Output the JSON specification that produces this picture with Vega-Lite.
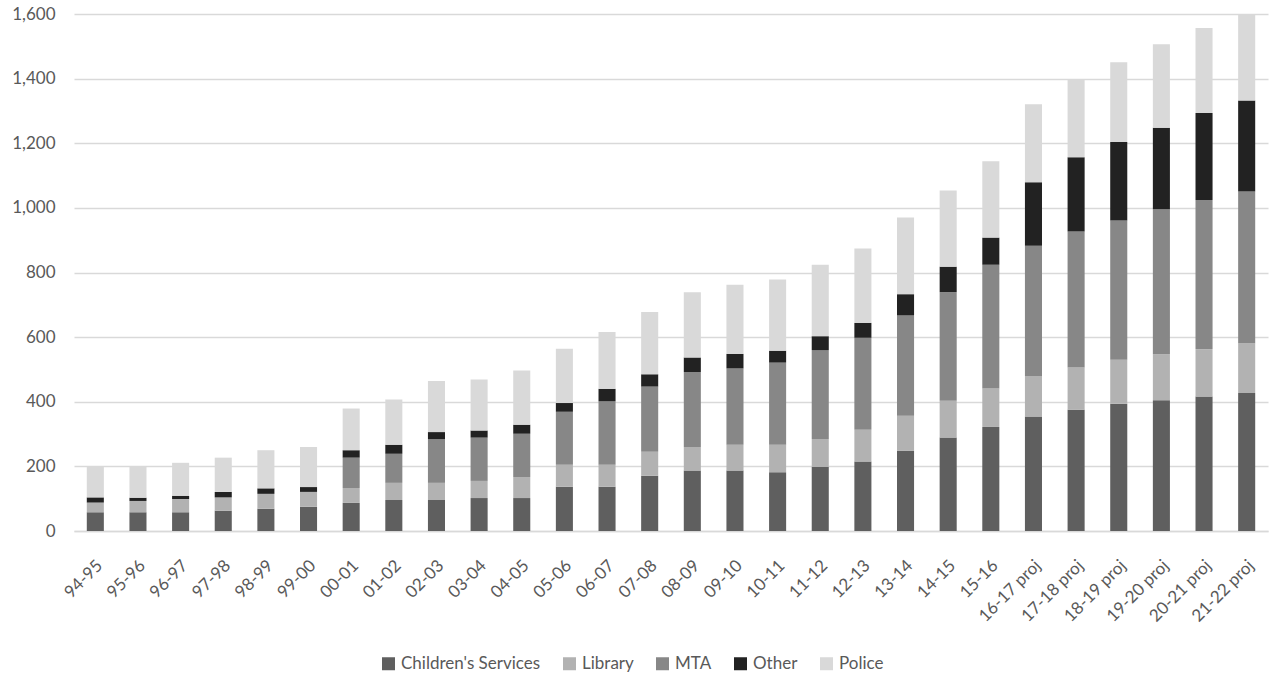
{
  "$schema": "https://vega.github.io/schema/vega-lite/v6.json",
  "width": 1194,
  "height": 517,
  "autosize": "none",
  "padding": {"left": 74, "top": 14, "right": 4, "bottom": 146},
  "background": "white",
  "config": {
    "font": "Lato",
    "view": {"stroke": null},
    "axis": {"labelFont": "Lato", "labelColor": "#595959", "labelFontSize": 17, "title": null}
  },
  "data": {
    "values": [
      {"year": "94-95", "dept": "Children's Services", "amount": 58}, {"year": "94-95", "dept": "Library", "amount": 30}, {"year": "94-95", "dept": "MTA", "amount": 0}, {"year": "94-95", "dept": "Other", "amount": 16}, {"year": "94-95", "dept": "Police", "amount": 96},
      {"year": "95-96", "dept": "Children's Services", "amount": 58}, {"year": "95-96", "dept": "Library", "amount": 35}, {"year": "95-96", "dept": "MTA", "amount": 0}, {"year": "95-96", "dept": "Other", "amount": 10}, {"year": "95-96", "dept": "Police", "amount": 97},
      {"year": "96-97", "dept": "Children's Services", "amount": 58}, {"year": "96-97", "dept": "Library", "amount": 41}, {"year": "96-97", "dept": "MTA", "amount": 0}, {"year": "96-97", "dept": "Other", "amount": 10}, {"year": "96-97", "dept": "Police", "amount": 102},
      {"year": "97-98", "dept": "Children's Services", "amount": 63}, {"year": "97-98", "dept": "Library", "amount": 41}, {"year": "97-98", "dept": "MTA", "amount": 0}, {"year": "97-98", "dept": "Other", "amount": 17}, {"year": "97-98", "dept": "Police", "amount": 106},
      {"year": "98-99", "dept": "Children's Services", "amount": 69}, {"year": "98-99", "dept": "Library", "amount": 46}, {"year": "98-99", "dept": "MTA", "amount": 0}, {"year": "98-99", "dept": "Other", "amount": 17}, {"year": "98-99", "dept": "Police", "amount": 118},
      {"year": "99-00", "dept": "Children's Services", "amount": 75}, {"year": "99-00", "dept": "Library", "amount": 46}, {"year": "99-00", "dept": "MTA", "amount": 0}, {"year": "99-00", "dept": "Other", "amount": 15}, {"year": "99-00", "dept": "Police", "amount": 124},
      {"year": "00-01", "dept": "Children's Services", "amount": 87}, {"year": "00-01", "dept": "Library", "amount": 46}, {"year": "00-01", "dept": "MTA", "amount": 94}, {"year": "00-01", "dept": "Other", "amount": 23}, {"year": "00-01", "dept": "Police", "amount": 129},
      {"year": "01-02", "dept": "Children's Services", "amount": 96}, {"year": "01-02", "dept": "Library", "amount": 53}, {"year": "01-02", "dept": "MTA", "amount": 90}, {"year": "01-02", "dept": "Other", "amount": 28}, {"year": "01-02", "dept": "Police", "amount": 140},
      {"year": "02-03", "dept": "Children's Services", "amount": 96}, {"year": "02-03", "dept": "Library", "amount": 53}, {"year": "02-03", "dept": "MTA", "amount": 135}, {"year": "02-03", "dept": "Other", "amount": 22}, {"year": "02-03", "dept": "Police", "amount": 158},
      {"year": "03-04", "dept": "Children's Services", "amount": 102}, {"year": "03-04", "dept": "Library", "amount": 53}, {"year": "03-04", "dept": "MTA", "amount": 134}, {"year": "03-04", "dept": "Other", "amount": 22}, {"year": "03-04", "dept": "Police", "amount": 158},
      {"year": "04-05", "dept": "Children's Services", "amount": 102}, {"year": "04-05", "dept": "Library", "amount": 65}, {"year": "04-05", "dept": "MTA", "amount": 134}, {"year": "04-05", "dept": "Other", "amount": 28}, {"year": "04-05", "dept": "Police", "amount": 168},
      {"year": "05-06", "dept": "Children's Services", "amount": 137}, {"year": "05-06", "dept": "Library", "amount": 68}, {"year": "05-06", "dept": "MTA", "amount": 164}, {"year": "05-06", "dept": "Other", "amount": 27}, {"year": "05-06", "dept": "Police", "amount": 168},
      {"year": "06-07", "dept": "Children's Services", "amount": 137}, {"year": "06-07", "dept": "Library", "amount": 68}, {"year": "06-07", "dept": "MTA", "amount": 197}, {"year": "06-07", "dept": "Other", "amount": 38}, {"year": "06-07", "dept": "Police", "amount": 176},
      {"year": "07-08", "dept": "Children's Services", "amount": 171}, {"year": "07-08", "dept": "Library", "amount": 74}, {"year": "07-08", "dept": "MTA", "amount": 202}, {"year": "07-08", "dept": "Other", "amount": 38}, {"year": "07-08", "dept": "Police", "amount": 193},
      {"year": "08-09", "dept": "Children's Services", "amount": 187}, {"year": "08-09", "dept": "Library", "amount": 73}, {"year": "08-09", "dept": "MTA", "amount": 232}, {"year": "08-09", "dept": "Other", "amount": 45}, {"year": "08-09", "dept": "Police", "amount": 202},
      {"year": "09-10", "dept": "Children's Services", "amount": 187}, {"year": "09-10", "dept": "Library", "amount": 80}, {"year": "09-10", "dept": "MTA", "amount": 236}, {"year": "09-10", "dept": "Other", "amount": 45}, {"year": "09-10", "dept": "Police", "amount": 214},
      {"year": "10-11", "dept": "Children's Services", "amount": 182}, {"year": "10-11", "dept": "Library", "amount": 85}, {"year": "10-11", "dept": "MTA", "amount": 254}, {"year": "10-11", "dept": "Other", "amount": 37}, {"year": "10-11", "dept": "Police", "amount": 220},
      {"year": "11-12", "dept": "Children's Services", "amount": 198}, {"year": "11-12", "dept": "Library", "amount": 87}, {"year": "11-12", "dept": "MTA", "amount": 275}, {"year": "11-12", "dept": "Other", "amount": 43}, {"year": "11-12", "dept": "Police", "amount": 221},
      {"year": "12-13", "dept": "Children's Services", "amount": 215}, {"year": "12-13", "dept": "Library", "amount": 98}, {"year": "12-13", "dept": "MTA", "amount": 285}, {"year": "12-13", "dept": "Other", "amount": 46}, {"year": "12-13", "dept": "Police", "amount": 230},
      {"year": "13-14", "dept": "Children's Services", "amount": 248}, {"year": "13-14", "dept": "Library", "amount": 109}, {"year": "13-14", "dept": "MTA", "amount": 310}, {"year": "13-14", "dept": "Other", "amount": 66}, {"year": "13-14", "dept": "Police", "amount": 237},
      {"year": "14-15", "dept": "Children's Services", "amount": 289}, {"year": "14-15", "dept": "Library", "amount": 114}, {"year": "14-15", "dept": "MTA", "amount": 336}, {"year": "14-15", "dept": "Other", "amount": 79}, {"year": "14-15", "dept": "Police", "amount": 236},
      {"year": "15-16", "dept": "Children's Services", "amount": 322}, {"year": "15-16", "dept": "Library", "amount": 119}, {"year": "15-16", "dept": "MTA", "amount": 383}, {"year": "15-16", "dept": "Other", "amount": 84}, {"year": "15-16", "dept": "Police", "amount": 236},
      {"year": "16-17 proj", "dept": "Children's Services", "amount": 354}, {"year": "16-17 proj", "dept": "Library", "amount": 124}, {"year": "16-17 proj", "dept": "MTA", "amount": 405}, {"year": "16-17 proj", "dept": "Other", "amount": 196}, {"year": "16-17 proj", "dept": "Police", "amount": 242},
      {"year": "17-18 proj", "dept": "Children's Services", "amount": 375}, {"year": "17-18 proj", "dept": "Library", "amount": 131}, {"year": "17-18 proj", "dept": "MTA", "amount": 421}, {"year": "17-18 proj", "dept": "Other", "amount": 230}, {"year": "17-18 proj", "dept": "Police", "amount": 242},
      {"year": "18-19 proj", "dept": "Children's Services", "amount": 394}, {"year": "18-19 proj", "dept": "Library", "amount": 136}, {"year": "18-19 proj", "dept": "MTA", "amount": 431}, {"year": "18-19 proj", "dept": "Other", "amount": 243}, {"year": "18-19 proj", "dept": "Police", "amount": 247},
      {"year": "19-20 proj", "dept": "Children's Services", "amount": 405}, {"year": "19-20 proj", "dept": "Library", "amount": 142}, {"year": "19-20 proj", "dept": "MTA", "amount": 449}, {"year": "19-20 proj", "dept": "Other", "amount": 252}, {"year": "19-20 proj", "dept": "Police", "amount": 258},
      {"year": "20-21 proj", "dept": "Children's Services", "amount": 416}, {"year": "20-21 proj", "dept": "Library", "amount": 147}, {"year": "20-21 proj", "dept": "MTA", "amount": 461}, {"year": "20-21 proj", "dept": "Other", "amount": 270}, {"year": "20-21 proj", "dept": "Police", "amount": 263},
      {"year": "21-22 proj", "dept": "Children's Services", "amount": 427}, {"year": "21-22 proj", "dept": "Library", "amount": 153}, {"year": "21-22 proj", "dept": "MTA", "amount": 471}, {"year": "21-22 proj", "dept": "Other", "amount": 281}, {"year": "21-22 proj", "dept": "Police", "amount": 268}
    ]
  },
  "mark": {"type": "bar", "strokeWidth": 0},
  "encoding": {
    "x": {
      "field": "year",
      "type": "nominal",
      "sort": null,
      "scale": {"paddingInner": 0.6, "paddingOuter": 0.3},
      "axis": {
        "labelAngle": -45,
        "labelFontSize": 17,
        "labelPadding": 26,
        "labelOffset": -1,
        "ticks": false,
        "domainColor": "#d9d9d9",
        "domainWidth": 1.5,
        "grid": false
      }
    },
    "y": {
      "field": "amount",
      "type": "quantitative",
      "stack": "zero",
      "scale": {"domain": [0, 1600], "nice": false},
      "axis": {
        "values": [0, 200, 400, 600, 800, 1000, 1200, 1400, 1600],
        "format": ",d",
        "domain": false,
        "ticks": false,
        "labelPadding": 19,
        "gridColor": "#d9d9d9",
        "gridWidth": 1.5
      }
    },
    "color": {
      "field": "dept",
      "type": "nominal",
      "scale": {
        "domain": ["Children's Services", "Library", "MTA", "Other", "Police"],
        "range": ["#5f5f5f", "#b2b2b2", "#878787", "#222222", "#d9d9d9"]
      },
      "legend": {
        "title": null,
        "orient": "none",
        "direction": "horizontal",
        "columns": 5,
        "legendX": 306,
        "legendY": 641,
        "symbolType": "square",
        "symbolSize": 169,
        "symbolStrokeWidth": 0,
        "labelFont": "Lato",
        "labelFontSize": 17,
        "labelColor": "#595959",
        "labelOffset": 4,
        "columnPadding": 20
      }
    },
    "order": {"field": "dept", "sort": "ascending"}
  }
}
